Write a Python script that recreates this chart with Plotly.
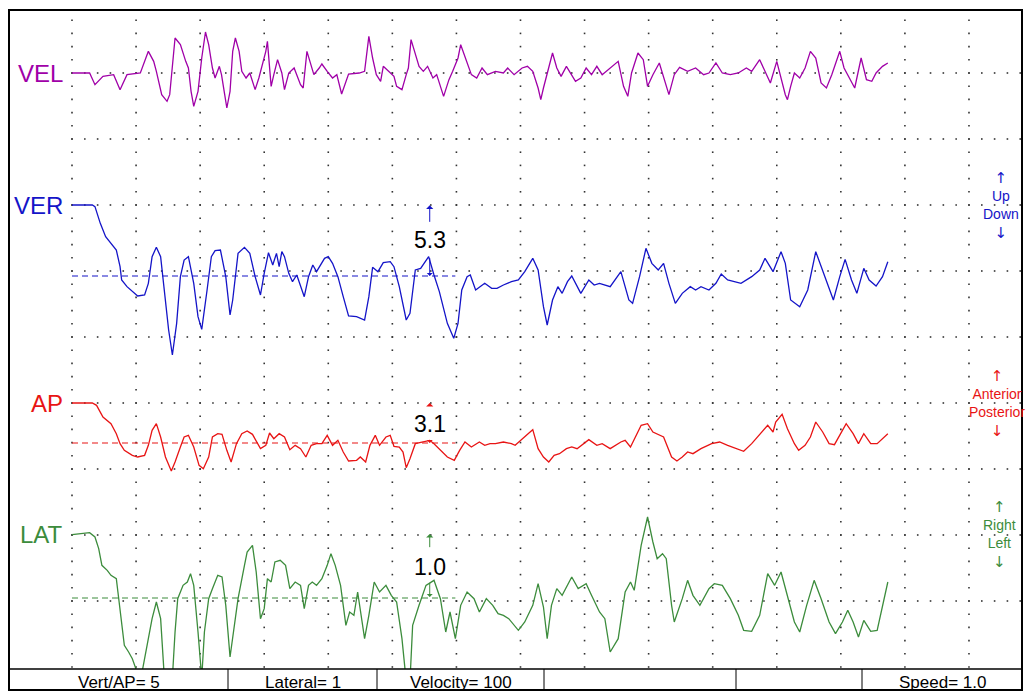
import plotly.graph_objects as go

# ---------------- data ----------------
# time in samples, amplitude in trace units (positive = up), per channel
vel = [(22,0),(55,0),(65,-35),(80,-10),(100,-5),(112,-50),(125,-5),(150,0),(165,65),(175,35),(180,5),(190,-65),
       (200,-85),(205,-65),(215,105),(225,85),(235,35),(240,15),(245,-55),(250,-100),(258,-55),(265,45),(272,123),
       (278,85),(285,15),(290,-15),(298,20),(302,-5),(308,-65),(312,-105),(318,-55),(323,65),(328,105),(335,65),
       (340,5),(348,-15),(355,0),(365,-50),(372,-15),(385,65),(388,95),(392,25),(395,-40),(400,-5),(407,40),(415,0),
       (420,-50),(428,0),(438,15),(450,-35),(455,-45),(462,65),(470,25),(475,-5),(485,15),(490,27),(500,5),(510,-15),
       (518,-5),(527,-63),(540,-3),(560,0),(570,5),(578,110),(585,45),(592,-5),(600,-25),(605,20),(615,5),(625,-10),
       (630,-40),(640,-50),(648,-5),(652,15),(657,100),(665,55),(672,20),(680,5),(688,20),(698,-15),(705,-5),
       (718,-70),(728,-20),(735,5),(745,45),(750,85),(760,40),(770,-5),(780,-15),(790,15),(800,-5),(815,5),(830,0),
       (838,15),(850,-5),(865,15),(875,20),(885,5),(895,-45),(900,-80),(905,-45),(915,15),(922,60),(930,15),
       (938,-10),(948,20),(965,-25),(975,-15),(985,15),(995,-5),(1005,20),(1015,-5),(1045,35),(1055,-40),(1063,-70),
       (1070,0),(1082,60),(1092,40),(1100,-40),(1110,-5),(1122,30),(1140,-65),(1150,-5),(1160,17),(1175,5),
       (1190,15),(1205,-5),(1215,0),(1228,30),(1240,0),(1255,-5),(1270,0),(1285,15),(1295,5),(1310,40),(1330,-30),
       (1335,-5),(1342,35),(1358,-65),(1362,-80),(1368,-40),(1375,0),(1385,-15),(1395,15),(1405,65),(1415,45),
       (1425,-30),(1435,-45),(1445,-5),(1460,65),(1468,15),(1478,-15),(1488,-45),(1500,45),(1510,-20),(1520,-25),
       (1528,0),(1540,20),(1550,30)]

ver = [(22,213),(60,213),(65,208),(75,158),(85,118),(95,98),(105,78),(112,28),(115,-12),(125,-32),(135,-47),
       (145,-60),(158,-57),(165,-22),(172,58),(180,86),(188,58),(195,-42),(203,-162),(210,-237),(218,-142),(225,-2),
       (232,48),(240,58),(250,-22),(258,-122),(265,-160),(275,-42),(283,58),(290,76),(300,78),(310,-2),(318,-117),
       (323,-72),(333,68),(345,86),(355,68),(365,-2),(375,-57),(382,8),(390,70),(398,33),(405,68),(410,28),(415,73),
       (420,58),(428,8),(435,-17),(443,3),(457,-62),(465,-2),(473,33),(480,13),(495,53),(502,58),(510,38),(520,-2),
       (530,-62),(540,-120),(555,-122),(570,-132),(578,-62),(585,26),(595,13),(605,40),(618,43),(625,28),(635,-32),
       (648,-132),(655,-112),(665,18),(675,23),(690,58),(700,3),(710,-47),(725,-142),(737,-187),(745,-142),(752,-42),
       (762,-2),(768,3),(778,-42),(795,-22),(808,-37),(818,-37),(830,-27),(845,-17),(858,-12),(870,13),(885,53),
       (895,18),(905,-92),(912,-147),(922,-72),(932,-32),(940,-52),(950,-17),(958,0),(975,-52),(990,-12),(1000,-27),
       (1010,-22),(1030,-32),(1050,13),(1065,-72),(1072,-82),(1085,-2),(1097,83),(1108,38),(1120,18),(1130,38),
       (1140,-22),(1152,-82),(1165,-52),(1180,-32),(1190,-42),(1200,-32),(1215,-42),(1228,-22),(1238,6),(1250,-12),
       (1275,-22),(1295,-2),(1310,18),(1320,53),(1335,13),(1350,73),(1358,38),(1368,-72),(1385,-92),(1400,-42),
       (1415,73),(1430,8),(1448,-72),(1460,-2),(1470,50),(1482,-12),(1492,-52),(1505,23),(1515,-12),(1528,-30),
       (1540,-2),(1550,43)]

ap = [(22,120),(60,120),(68,113),(80,78),(95,58),(105,28),(112,-2),(120,-22),(135,-37),(145,-42),(158,-37),(165,-7),
      (172,38),(180,58),(188,18),(197,-42),(208,-84),(215,-57),(225,-12),(232,18),(240,23),(250,-12),(260,-67),
      (268,-77),(278,-42),(285,18),(295,28),(303,26),(312,-22),(320,-57),(330,-2),(340,28),(350,36),(360,26),
      (375,-17),(385,-7),(392,30),(400,13),(410,28),(420,18),(430,-20),(440,-7),(450,-17),(460,-42),(470,-7),(480,-2),
      (490,-2),(500,23),(510,-7),(520,8),(530,-27),(540,-54),(555,-52),(562,-42),(572,-57),(580,-7),(585,8),(590,23),
      (598,-7),(610,18),(618,23),(625,-10),(635,-12),(642,-27),(648,-74),(655,-47),(665,-2),(680,3),(692,8),(700,-2),
      (710,-17),(725,-42),(738,-52),(748,-22),(758,3),(770,-12),(785,3),(795,-7),(805,-2),(815,-2),(830,3),(845,-2),
      (852,-7),(865,13),(880,33),(885,40),(895,-17),(905,-42),(915,-57),(925,-37),(935,-32),(948,-17),(958,-12),
      (968,-17),(990,10),(1005,-7),(1015,-2),(1030,-17),(1050,3),(1058,8),(1068,-12),(1088,53),(1100,58),(1110,33),
      (1130,18),(1145,-42),(1155,-54),(1165,-42),(1175,-27),(1185,-32),(1200,-17),(1220,-2),(1235,3),(1250,-7),
      (1265,-17),(1280,-25),(1295,-2),(1315,33),(1325,53),(1335,33),(1340,63),(1352,86),(1362,43),(1375,-2),
      (1383,-22),(1395,-7),(1405,18),(1415,63),(1428,33),(1440,-2),(1450,-5),(1465,38),(1472,58),(1485,28),
      (1495,-2),(1505,28),(1518,-2),(1530,-2),(1550,28)]

lat = [(22,190),(40,193),(55,196),(65,183),(72,148),(78,98),(88,83),(95,68),(105,58),(108,18),(112,-42),(120,-142),
       (128,-162),(135,-182),(150,-250),(162,-142),(172,-62),(180,-12),(188,-62),(195,-240),(210,-240),(215,-102),
       (220,-2),(230,38),(238,48),(244,73),(250,38),(258,-102),(265,-240),(270,-102),(278,-2),(285,28),(295,68),
       (303,63),(310,-22),(318,-177),(325,-102),(333,-2),(345,98),(350,138),(360,158),(367,78),(375,-62),(382,-32),
       (388,58),(395,48),(402,108),(412,113),(422,98),(430,28),(440,48),(450,38),(457,-32),(465,38),(472,48),(480,38),
       (490,58),(500,98),(507,133),(515,98),(525,38),(535,-82),(542,-42),(550,-52),(557,18),(565,-72),(570,-122),
       (578,-52),(588,48),(598,18),(610,38),(620,8),(630,-12),(640,-122),(648,-250),(655,-250),(660,-82),(672,-22),
       (685,38),(700,53),(712,-2),(722,-102),(730,-42),(740,-122),(750,-22),(762,18),(775,-2),(785,-42),(798,-2),
       (810,-22),(820,-47),(830,-52),(840,-62),(858,-97),(870,-72),(885,-22),(895,43),(905,-27),(912,-122),(920,-22),
       (930,28),(940,8),(950,38),(958,63),(970,28),(985,43),(995,8),(1010,-42),(1020,-62),(1030,-162),(1045,-122),
       (1058,18),(1068,48),(1075,23),(1088,158),(1100,243),(1110,168),(1118,118),(1128,133),(1135,118),(1145,-22),
       (1150,-72),(1165,-2),(1175,53),(1185,8),(1198,-22),(1215,28),(1225,43),(1240,38),(1255,-2),(1270,-52),
       (1280,-97),(1295,-100),(1310,-52),(1325,73),(1338,38),(1350,78),(1360,18),(1375,-72),(1385,-102),(1398,-22),
       (1412,53),(1425,-2),(1440,-72),(1452,-107),(1465,-72),(1475,-37),(1485,-72),(1495,-117),(1505,-67),
       (1518,-100),(1530,-97),(1540,-22),(1550,48)]

channel_names = ["VEL", "VER", "AP", "LAT"]
channel_data = [vel, ver, ap, lat]
channel_colors = ["#a000a8", "#1414c8", "#e81414", "#3c8c3c"]
channel_offsets = [0, -609, -1110, -1575]          # vertical placement of each trace zero
ref_lines = [None, (22, 740), (22, 740), (22, 740)]  # dashed zero reference (start/end sample)

side_words = [None, ("Up", "Down"), ("Anterior", "Posterior"), ("Right", "Left")]
side_x = [None, 1762, 1755, 1760]

# cursor measurements: (channel, text, text amp, up-arrow tail, up-arrow head, down tail, down head)
cursor_t = 692
measures = [(1, "5.3", 108, 158, 212, 58, 0),
            (2, "3.1", 58, 110, 120, 12, 0),
            (3, "1.0", 93, 148, 192, 50, 3)]

status_texts = ["Vert/AP= 5", "Lateral= 1", "Velocity= 100", "", "", "Speed= 1.0"]

# ---------------- layout geometry ----------------
W, H = 1026, 691
ML, MR, MT, MB = 9, 4, 10, 22
x_range = [-96.0, 1801.3]
y_range = [-1788, 189]
grid_cols = [22 + 120 * k for k in range(15)]
grid_rows = [-198 * k for k in range(9)]
status_edges_px = [9, 228, 377, 544, 736, 862, 1022]

fig = go.Figure()

# dotted grid
gx, gy = [], []
for c in grid_cols:
    for m in range(4, -46, -1):
        gx.append(c); gy.append(39.6 * m)
for r in grid_rows:
    t = 22
    while t <= 1800:
        gx.append(t); gy.append(r)
        t += 24
fig.add_trace(go.Scatter(x=gx, y=gy, mode="markers", hoverinfo="skip",
                         marker=dict(symbol="square", size=1.6, color="#333333", line=dict(width=0))))

# reference dashed lines
for i, rl in enumerate(ref_lines):
    if rl is None:
        continue
    fig.add_trace(go.Scatter(x=[rl[0], rl[1]], y=[channel_offsets[i]] * 2, mode="lines",
                             line=dict(color=channel_colors[i], width=1.2, dash="6px,4px"), hoverinfo="skip"))

# traces
for i, d in enumerate(channel_data):
    fig.add_trace(go.Scatter(x=[p[0] for p in d], y=[p[1] + channel_offsets[i] for p in d], mode="lines",
                             line=dict(color=channel_colors[i], width=1.3), hoverinfo="skip"))

ann = []
FONT = "Liberation Sans, Arial, sans-serif"
ARROWFONT = "DejaVu Sans"
for i, name in enumerate(channel_names):
    y0 = channel_data[i][0][1] + channel_offsets[i]
    ann.append(dict(x=9, y=y0, xref="x", yref="y", text=name, showarrow=False, xanchor="right",
                    yanchor="middle", font=dict(family=FONT, size=24, color=channel_colors[i])))
    if side_words[i]:
        w1, w2 = side_words[i]
        txt = ("<span style='font-family:DejaVu Sans;font-size:15px'>↑</span><br>" + w1 + "<br>" + w2 +
               "<br><span style='font-family:DejaVu Sans;font-size:15px'>↓</span>")
        ann.append(dict(x=side_x[i], y=y0, xref="x", yref="y", text=txt, showarrow=False,
                        xanchor="center", yanchor="middle",
                        font=dict(family=FONT, size=14, color=channel_colors[i])))

for ch, txt, ta, ut, uh, dt, dh in measures:
    off = channel_offsets[ch]
    col = channel_colors[ch]
    ann.append(dict(x=cursor_t, y=ta + off, xref="x", yref="y", text=txt, showarrow=False,
                    font=dict(family=FONT, size=23, color="black")))
    ann.append(dict(x=cursor_t, y=uh + off, ax=cursor_t, ay=ut + off, xref="x", yref="y",
                    axref="x", ayref="y", text="", showarrow=True, arrowhead=1, arrowsize=1.2,
                    arrowwidth=1, arrowcolor=col))
    ann.append(dict(x=cursor_t, y=dh + off, ax=cursor_t, ay=dt + off, xref="x", yref="y",
                    axref="x", ayref="y", text="", showarrow=True, arrowhead=1, arrowsize=1.0,
                    arrowwidth=1, arrowcolor=col))

# status bar
pw = W - ML - MR
ph = H - MT - MB
def px_to_paper_x(px):
    return (px - ML) / pw
yb = -(MB - 1) / ph
shapes = [dict(type="rect", xref="paper", yref="paper", x0=0, x1=1, y0=yb, y1=1,
               line=dict(color="black", width=2)),
          dict(type="line", xref="paper", yref="paper", x0=0, x1=1, y0=0, y1=0,
               line=dict(color="black", width=1.5))]
for e in status_edges_px[1:-1]:
    shapes.append(dict(type="line", xref="paper", yref="paper", x0=px_to_paper_x(e), x1=px_to_paper_x(e),
                       y0=yb, y1=0, line=dict(color="black", width=1)))
for k, txt in enumerate(status_texts):
    if not txt:
        continue
    cx = px_to_paper_x((status_edges_px[k] + status_edges_px[k + 1]) / 2)
    ann.append(dict(x=cx, y=-13 / ph, xref="paper", yref="paper", text=txt, showarrow=False,
                    xanchor="center", yanchor="middle", font=dict(family=FONT, size=17, color="black")))

fig.update_layout(
    width=W, height=H, margin=dict(l=ML, r=MR, t=MT, b=MB, pad=0),
    paper_bgcolor="white", plot_bgcolor="white", showlegend=False,
    xaxis=dict(range=x_range, visible=False, fixedrange=True),
    yaxis=dict(range=y_range, visible=False, fixedrange=True),
    annotations=ann, shapes=shapes,
)
fig.write_html("out.html", config={"displayModeBar": False},
               post_script="document.body.style.margin='0';document.body.style.overflow='hidden';")
